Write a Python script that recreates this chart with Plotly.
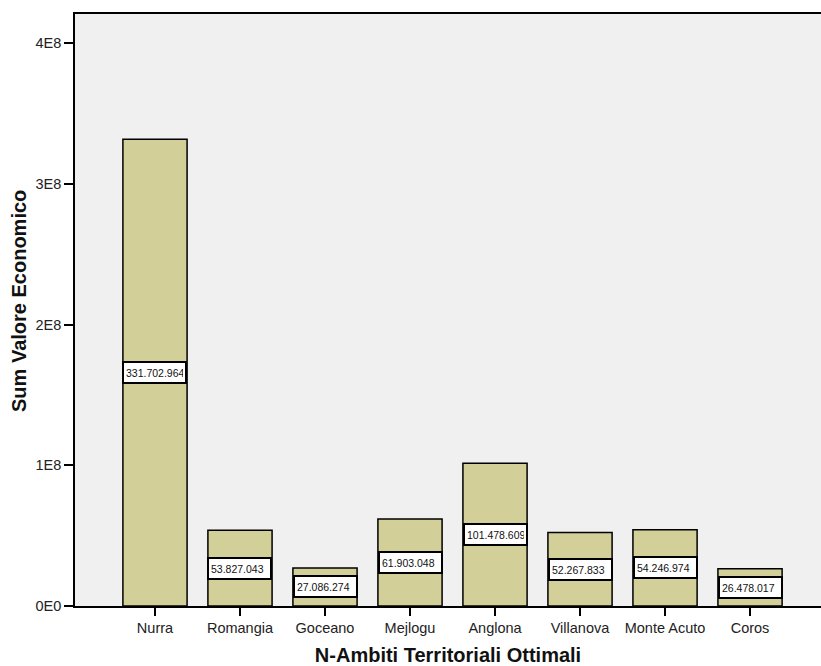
import plotly.graph_objects as go

categories = ["Nurra", "Romangia", "Goceano", "Mejlogu", "Anglona",
              "Villanova", "Monte Acuto", "Coros"]
values = [331702964, 53827043, 27086274, 61903048, 101478609,
          52267833, 54246974, 26478017]
y_tickvals = [0, 1e8, 2e8, 3e8, 4e8]
y_ticktext = ["0E0", "1E8", "2E8", "3E8", "4E8"]

FONT = "Arial, 'Liberation Sans', sans-serif"

def fmt(v):
    return f"{v:,}".replace(",", ".")

x_idx = list(range(len(categories)))

fig = go.Figure()
fig.add_trace(go.Bar(
    x=x_idx, y=values,
    marker=dict(color="#d3cf98", line=dict(color="black", width=1.5)),
    width=0.755,
    hoverinfo="skip",
))

for i, v in zip(x_idx, values):
    fig.add_annotation(
        x=i, y=v / 2, xref="x", yref="y",
        text=fmt(v), showarrow=False,
        font=dict(family=FONT, size=10.5, color="#111"),
        bgcolor="white", bordercolor="black", borderwidth=2, borderpad=2,
        width=57, height=15, align="left",
    )

# y-axis title placed as an annotation so its vertical position can match
fig.add_annotation(
    xref="paper", yref="paper", x=0, y=0.5, xanchor="center", yanchor="middle",
    xshift=-56, yshift=9,
    text="<b>Sum Valore Economico</b>", textangle=-90, showarrow=False,
    font=dict(family=FONT, size=20, color="#111"),
)

fig.update_layout(
    width=821, height=666,
    margin=dict(l=75, r=0, t=14, b=60),
    paper_bgcolor="white", plot_bgcolor="#f0f0f0",
    showlegend=False,
    font=dict(family=FONT, color="#222"),
)
fig.update_xaxes(
    range=[-0.941, 7.835],
    tickmode="array", tickvals=x_idx, ticktext=categories,
    tickfont=dict(family=FONT, size=14.5, color="#222"),
    ticks="outside", ticklen=8, tickwidth=1.5, tickcolor="black",
    showline=True, linecolor="black", linewidth=1.5, mirror=True,
    showgrid=False, zeroline=False,
    title=dict(text="<b>N-Ambiti Territoriali Ottimali</b>",
               font=dict(family=FONT, size=20, color="#111"), standoff=13),
    automargin=False,
)
fig.update_yaxes(
    range=[0, 4.207e8],
    tickmode="array", tickvals=y_tickvals, ticktext=y_ticktext,
    tickfont=dict(family=FONT, size=14.5, color="#222"),
    ticks="outside", ticklen=9, tickwidth=1.5, tickcolor="black",
    showline=True, linecolor="black", linewidth=1.5,
    showgrid=False, zeroline=False,
    automargin=False,
)

fig.write_html(
    "out.html",
    config={"displayModeBar": False},
    post_script="document.body.style.margin='0';document.body.style.overflow='hidden';",
)
